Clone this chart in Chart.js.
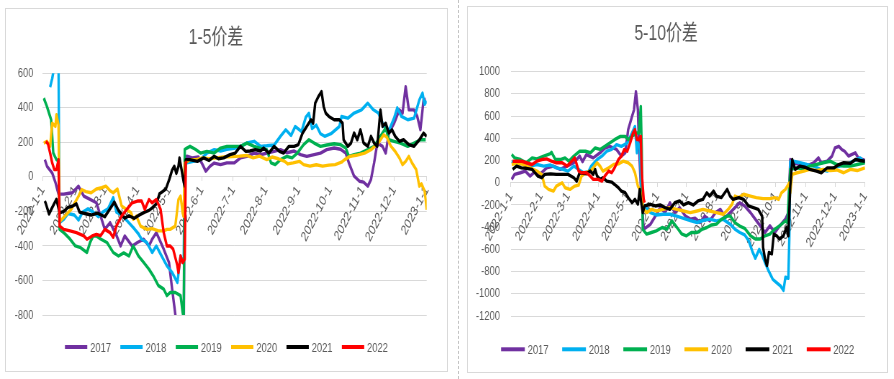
<!DOCTYPE html>
<html><head><meta charset="utf-8">
<script src="https://cdn.jsdelivr.net/npm/chart.js@4/dist/chart.umd.min.js"></script>
<style>
html,body{margin:0;padding:0;background:#fff;width:894px;height:379px;overflow:hidden;position:relative}
.panel{position:absolute;border:1px solid #d9d9d9;box-sizing:border-box;overflow:hidden;background:#fff}
.panel canvas{position:absolute;left:-1px;top:-1px;transform-origin:0 0;transform:scaleX(0.72)}
#sep{position:absolute;left:458px;top:0;height:379px;border-left:1px dashed #c4c4c4}
</style></head><body>
<div class="panel" id="p1" style="left:5px;top:8px;width:443px;height:364px"><canvas id="c1" width="615" height="364"></canvas></div>
<div id="sep"></div>
<div class="panel" id="p2" style="left:467px;top:6px;width:421px;height:367px"><canvas id="c2" width="585" height="367"></canvas></div>
<script>
// x = days since 2022-01-01
const monthDays = [0,31,59,90,120,151,181,212,243,273,304,334,365];
const monthLabels = ['2022-1-1','2022-2-1','2022-3-1','2022-4-1','2022-5-1','2022-6-1','2022-7-1','2022-8-1','2022-9-1','2022-10-1','2022-11-1','2022-12-1','2023-1-1'];
const years = ['2017','2018','2019','2020','2021','2022'];
const colors = ['#7030A0','#00B0F0','#00B050','#FFC000','#000000','#FF0000'];

// ---- 1-5 spread ----
const a2017 = [[2,100],[4,62],[9,23],[12,-31],[15,-100],[20,-100],[25,-95],[28,-92],[34,-54],[39,-111],[45,-130],[51,-150],[55,-227],[59,-304],[64,-265],[69,-323],[74,-400],[78,-342],[85,-400],[90,-380],[96,-361],[101,-400],[104,-360],[108,-323],[115,-419],[120,-496],[123,-650],[126,-795],[128,-900],[134,-950],[135,110],[137,120],[142,110],[148,115],[152,70],[155,33],[159,62],[163,80],[169,71],[175,81],[182,81],[188,110],[194,119],[201,138],[207,128],[213,138],[220,148],[226,158],[232,140],[239,150],[245,129],[251,119],[258,129],[264,138],[270,158],[277,167],[283,160],[288,138],[291,81],[296,4],[301,-25],[305,-30],[309,-54],[312,-15],[315,81],[318,196],[323,177],[326,138],[329,254],[334,311],[339,388],[342,369],[345,523],[348,388],[353,388],[356,350],[359,273],[362,446],[364,450]];
const a2018 = [[7,520],[9,570],[11,640],[15,660],[16,-265],[20,-246],[24,-212],[30,-221],[34,-250],[38,-204],[43,-185],[48,-204],[53,-231],[57,-204],[62,-185],[67,-120],[70,-204],[75,-221],[81,-260],[87,-300],[91,-330],[94,-361],[99,-380],[104,-438],[108,-400],[113,-458],[118,-515],[123,-554],[128,-612],[131,-458],[133,-496],[134,-470],[135,81],[137,81],[143,90],[150,100],[156,138],[163,158],[169,150],[175,160],[182,165],[188,177],[194,196],[201,206],[207,177],[213,180],[220,185],[226,235],[231,273],[236,240],[240,292],[246,263],[250,345],[253,369],[256,280],[260,300],[264,250],[268,235],[274,250],[282,292],[284,350],[290,340],[296,370],[303,388],[309,427],[314,390],[319,370],[323,311],[328,254],[334,340],[337,400],[341,350],[347,331],[353,340],[358,446],[361,485],[363,420],[365,440]];
const a2019 = [[1,456],[4,408],[7,350],[8,330],[10,138],[13,100],[15,90],[16,-304],[20,-323],[26,-361],[31,-400],[36,-410],[42,-438],[45,-380],[48,-342],[51,-342],[55,-360],[61,-380],[67,-438],[72,-458],[77,-440],[82,-458],[86,-400],[91,-458],[96,-496],[101,-535],[105,-573],[110,-630],[115,-650],[118,-688],[121,-670],[126,-670],[131,-688],[133,-785],[134,-820],[135,158],[137,167],[140,177],[145,160],[150,138],[156,148],[163,138],[169,167],[175,177],[182,177],[188,177],[194,196],[201,177],[207,165],[213,158],[217,81],[221,71],[226,100],[232,119],[237,110],[242,138],[248,187],[253,215],[258,196],[264,177],[270,185],[277,192],[283,187],[288,167],[291,119],[296,129],[302,138],[309,158],[315,177],[321,235],[326,283],[329,215],[334,206],[340,196],[347,177],[353,196],[359,215],[364,215]];
const a2020 = [[1,196],[4,206],[7,177],[9,311],[12,292],[13,360],[15,300],[16,-260],[21,-227],[27,-188],[34,-112],[37,-73],[41,-85],[46,-92],[51,-70],[56,-63],[60,-54],[64,-80],[67,-92],[71,-70],[75,-169],[80,-190],[84,-208],[86,-246],[89,-227],[93,-285],[99,-304],[104,-300],[110,-313],[115,-313],[118,-304],[121,-304],[126,-285],[129,-131],[131,-111],[133,-208],[134,-230],[135,80],[140,100],[146,100],[152,110],[158,105],[165,110],[172,115],[180,118],[187,120],[194,124],[200,110],[206,120],[213,100],[218,115],[224,105],[230,90],[233,75],[238,81],[244,90],[248,71],[254,62],[260,70],[266,62],[272,68],[278,71],[284,85],[287,100],[292,119],[298,125],[306,138],[312,157],[319,196],[324,244],[327,230],[331,177],[335,148],[339,110],[342,71],[345,90],[348,119],[351,81],[355,42],[358,-54],[360,-40],[363,-83],[364,-130],[365,-190]];
const a2021 = [[2,-140],[3,-156],[6,-215],[9,-177],[13,-130],[16,-208],[20,-200],[24,-177],[28,-170],[32,-156],[35,-204],[40,-212],[46,-221],[52,-210],[59,-231],[63,-194],[68,-146],[72,-194],[78,-240],[82,-225],[87,-240],[92,-220],[97,-204],[101,-194],[104,-180],[108,-156],[111,-98],[114,-85],[117,-70],[120,-20],[123,40],[125,62],[127,20],[129,60],[130,110],[132,40],[134,-30],[135,-54],[136,100],[140,100],[147,90],[153,110],[158,95],[163,119],[167,105],[172,110],[178,129],[183,138],[188,177],[193,148],[197,150],[202,158],[207,150],[210,167],[215,138],[220,177],[225,148],[229,138],[234,177],[239,177],[243,187],[247,254],[251,292],[255,331],[257,311],[259,427],[262,465],[265,494],[267,408],[269,369],[272,350],[277,331],[282,331],[285,311],[286,215],[290,177],[293,196],[296,254],[299,215],[302,273],[305,196],[309,177],[312,235],[315,196],[318,177],[321,388],[323,292],[326,311],[329,254],[332,273],[335,235],[339,206],[343,215],[348,187],[353,177],[358,215],[362,254],[365,235]];
const a2022 = [[3,206],[5,190],[7,138],[9,81],[11,42],[13,42],[15,100],[16,-285],[20,-304],[26,-313],[32,-323],[39,-342],[42,-361],[47,-342],[51,-333],[55,-340],[59,-304],[64,-323],[67,-350],[70,-285],[75,-227],[80,-188],[85,-150],[90,-140],[94,-140],[97,-188],[101,-131],[104,-150],[108,-131],[112,-188],[115,-323],[118,-400],[121,-400],[124,-419],[128,-515],[129,-554],[131,-458],[133,-496],[135,-477],[136,81],[137,90]];

// ---- 5-10 spread ----
const b2017 = [[1,30],[4,75],[10,90],[15,105],[20,60],[25,100],[30,75],[37,134],[44,150],[51,120],[58,150],[65,180],[71,240],[74,190],[78,254],[85,224],[92,270],[97,313],[102,328],[109,300],[114,240],[118,270],[121,478],[125,597],[127,657],[129,820],[131,657],[132,358],[134,-30],[137,-418],[144,-373],[149,-300],[154,-224],[159,-269],[164,-180],[169,-269],[174,-224],[180,-300],[185,-328],[190,-320],[195,-358],[200,-300],[205,-343],[211,-269],[216,-240],[221,-313],[226,-269],[231,-224],[236,-180],[241,-209],[247,-269],[252,-328],[257,-388],[262,-448],[267,-388],[272,-448],[277,-390],[283,-328],[286,-269],[288,209],[291,180],[298,164],[305,150],[312,180],[317,224],[320,180],[326,194],[331,240],[334,313],[338,328],[341,300],[344,284],[348,240],[351,254],[355,270],[358,224],[363,209],[365,200]];
const b2018 = [[1,194],[6,164],[13,180],[20,150],[27,164],[34,150],[41,160],[47,134],[54,120],[59,105],[65,150],[70,120],[75,90],[80,100],[83,150],[89,209],[94,240],[99,284],[104,300],[109,343],[114,328],[120,358],[125,448],[128,507],[130,270],[131,358],[133,330],[135,-190],[138,-209],[144,-269],[150,-290],[157,-284],[164,-284],[171,-300],[178,-320],[185,-340],[192,-358],[198,-340],[205,-328],[212,-343],[219,-330],[226,-373],[231,-418],[236,-448],[241,-470],[245,-520],[249,-620],[252,-680],[256,-600],[259,-650],[262,-720],[266,-800],[270,-870],[274,-900],[278,-930],[281,-970],[283,-850],[286,-860],[287,-500],[288,190],[291,194],[298,180],[305,164],[312,150],[319,120],[326,105],[333,134],[339,150],[346,164],[353,194],[360,224],[365,180]];
const b2019 = [[1,254],[4,224],[10,209],[16,180],[22,224],[27,215],[34,240],[41,263],[42,275],[46,209],[51,209],[56,224],[60,194],[65,240],[71,284],[77,284],[82,270],[87,313],[92,300],[97,328],[102,358],[107,388],[113,418],[118,418],[121,388],[125,418],[130,448],[132,448],[134,687],[135,300],[136,-418],[140,-463],[145,-448],[150,-433],[156,-403],[161,-418],[166,-343],[171,-400],[176,-460],[181,-478],[186,-448],[192,-448],[197,-420],[202,-403],[207,-380],[212,-373],[217,-330],[223,-300],[226,-298],[231,-360],[236,-390],[241,-410],[247,-478],[252,-507],[257,-507],[262,-478],[267,-463],[272,-418],[277,-388],[283,-343],[285,-360],[287,-30],[288,120],[295,134],[302,120],[308,150],[315,164],[322,180],[329,194],[336,164],[343,150],[350,150],[357,164],[365,180]];
const b2020 = [[1,164],[6,180],[13,164],[20,134],[27,105],[32,75],[35,-30],[39,-60],[44,-75],[47,-30],[53,0],[56,-45],[61,-60],[66,-30],[70,-20],[73,60],[77,90],[82,105],[85,134],[89,180],[92,150],[95,105],[101,134],[106,164],[111,170],[116,194],[121,180],[125,150],[128,90],[131,-30],[133,-60],[135,-150],[137,-240],[140,-269],[145,-240],[150,-254],[157,-240],[164,-224],[171,-240],[178,-254],[185,-269],[192,-254],[198,-240],[205,-254],[212,-269],[219,-284],[224,-240],[228,-194],[231,-120],[235,-134],[240,-104],[247,-120],[253,-134],[260,-143],[267,-143],[272,-134],[276,-150],[279,-90],[283,-60],[285,-30],[287,0],[288,-90],[290,75],[295,90],[302,105],[308,120],[315,110],[322,120],[329,110],[336,115],[343,90],[350,120],[357,110],[365,134]];
const b2021 = [[2,120],[6,150],[11,134],[16,130],[22,120],[25,90],[28,60],[32,45],[35,75],[41,80],[47,75],[54,75],[59,75],[65,45],[68,15],[71,90],[78,80],[82,105],[85,75],[87,119],[89,60],[92,30],[95,45],[99,15],[104,6],[107,-15],[111,-45],[114,-75],[118,-90],[121,-134],[125,-180],[128,-150],[131,-194],[133,-60],[134,-150],[136,-269],[138,-209],[144,-194],[149,-209],[154,-200],[159,-224],[164,-240],[169,-180],[174,-164],[178,-200],[183,-180],[188,-200],[193,-164],[198,-150],[202,-90],[205,-120],[209,-75],[212,-120],[217,-134],[223,-60],[226,-120],[229,-150],[235,-134],[240,-150],[245,-209],[250,-224],[255,-240],[259,-300],[260,-582],[262,-687],[264,-746],[266,-627],[269,-640],[271,-463],[274,-478],[277,-507],[281,-478],[284,-403],[286,-478],[288,-30],[290,209],[293,120],[298,150],[303,140],[308,120],[315,105],[320,90],[326,134],[333,134],[338,164],[343,180],[350,175],[355,209],[360,200],[365,194]];
const b2022 = [[2,194],[6,194],[11,194],[16,180],[22,164],[27,194],[32,209],[37,215],[42,194],[47,180],[53,180],[58,150],[63,194],[66,224],[70,105],[73,90],[78,90],[82,60],[85,30],[90,30],[94,15],[97,60],[101,105],[104,90],[107,134],[111,209],[114,240],[117,300],[120,284],[123,358],[126,448],[128,478],[130,388],[132,390],[134,418],[135,90],[137,-150],[138,-180]];

const FONT = '"Liberation Sans","Noto Sans CJK SC",Arial,sans-serif';

const legendPlugin = {
  id: 'lineLegend',
  afterDraw(chart, args, o) {
    const ctx = chart.ctx;
    ctx.save();
    ctx.font = o.size + 'px ' + FONT;
    const items = chart.data.datasets.map(ds => ({label: ds.label, color: ds.borderColor, w: ctx.measureText(ds.label).width}));
    const total = items.reduce((a, it) => a + o.swatch + o.gap + it.w, 0) + o.spacing * (items.length - 1);
    let x = chart.width / 2 - total / 2;
    ctx.textBaseline = 'middle';
    ctx.textAlign = 'left';
    items.forEach(it => {
      ctx.fillStyle = it.color;
      ctx.fillRect(x, o.y - o.thick / 2, o.swatch, o.thick);
      x += o.swatch + o.gap;
      ctx.fillStyle = '#595959';
      ctx.fillText(it.label, x, o.y + 1);
      x += it.w + o.spacing;
    });
    ctx.restore();
  }
};

function makeChart(id, title, series, yMin, yMax, L) {
  const datasets = series.map((s, i) => ({
    label: years[i],
    data: s.map(p => ({x: p[0], y: p[1]})),
    borderColor: colors[i],
    backgroundColor: colors[i],
    borderWidth: 3.4,
    pointRadius: 0,
    tension: 0,
    fill: false,
    borderJoinStyle: 'round',
    order: series.length - i
  }));
  return new Chart(document.getElementById(id), {
    type: 'line',
    data: {datasets},
    plugins: [legendPlugin],
    options: {
      responsive: false,
      animation: false,
      devicePixelRatio: 1,
      layout: {padding: {left: 0, right: L.right, top: 0, bottom: L.bottom}},
      plugins: {
        legend: {display: false},
        tooltip: {enabled: false},
        title: {display: true, text: title, color: '#595959',
          font: {size: 22, weight: 'normal', family: FONT, lineHeight: 1.2},
          padding: {top: L.tTop, bottom: L.tBottom}},
        lineLegend: {y: L.legendY, size: 13, swatch: L.swatch, gap: 4, spacing: L.spacing, thick: 4}
      },
      scales: {
        x: {
          type: 'linear', min: 0, max: 365, position: {y: 0},
          grid: {drawOnChartArea: false, drawTicks: true, tickLength: 4, color: '#d9d9d9'},
          border: {display: true, color: '#d9d9d9'},
          afterBuildTicks: s => { s.ticks = monthDays.map(v => ({value: v})); },
          afterFit: s => { s.paddingLeft = 0; s.paddingRight = 0; },
          ticks: {autoSkip: false, minRotation: 55, maxRotation: 55, color: '#595959', padding: 2,
            font: {size: 14, family: FONT},
            callback: (v, i) => monthLabels[i]}
        },
        y: {
          type: 'linear', min: yMin, max: yMax,
          grid: {color: '#d9d9d9', drawTicks: false},
          border: {display: false},
          afterFit: s => { s.width = L.yWidth; },
          ticks: {stepSize: 200, color: '#595959', padding: L.yPad, font: {size: 13, family: FONT},
            callback: v => String(v)}
        }
      }
    }
  });
}

makeChart('c1', '1-5价差', [a2017, a2018, a2019, a2020, a2021, a2022], -800, 600,
  {right: 29.3, bottom: 57, tTop: 16.5, tBottom: 22.4, legendY: 339, yWidth: 52.4, yPad: 13, swatch: 31, spacing: 13});
makeChart('c2', '5-10价差', [b2017, b2018, b2019, b2020, b2021, b2022], -1200, 1000,
  {right: 32.2, bottom: 57, tTop: 14.5, tBottom: 24.8, legendY: 343.3, yWidth: 60.7, yPad: 15, swatch: 33, spacing: 19});
</script>
</body></html>
